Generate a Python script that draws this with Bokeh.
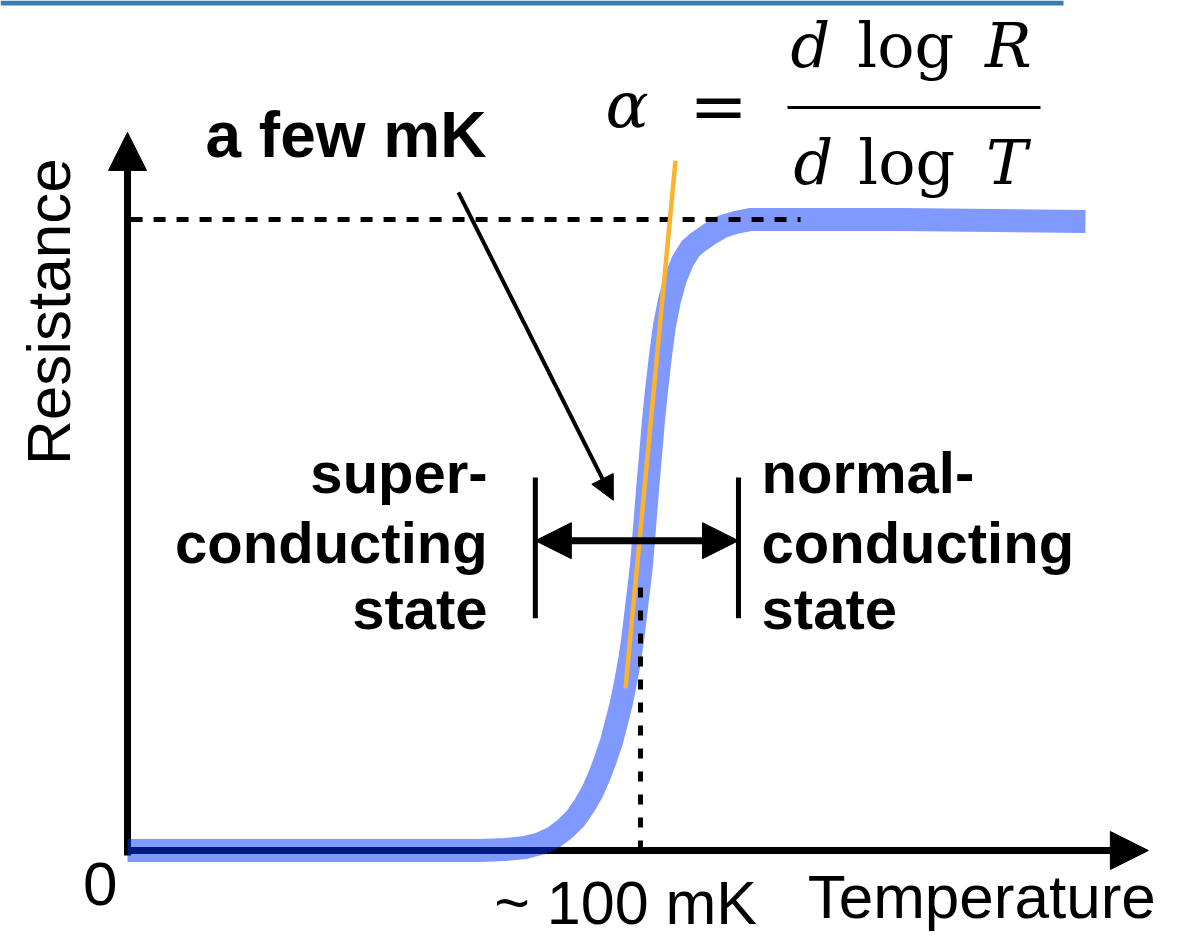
import math

from bokeh.plotting import figure
from bokeh.models import Range1d, Arrow, NormalHead
from bokeh.core.properties import value
from bokeh.embed import file_html
from bokeh.resources import INLINE

# Superconducting transition of a TES: resistance (relative to the
# normal-state value R_n) against temperature in mK.
temperature_mK = [0.0, 68.81, 73.68, 77.58, 80.51, 83.04, 85.38, 87.33, 89.08,
                  90.64, 92.01, 93.18, 94.35, 95.32, 96.30, 97.08, 97.86, 98.44,
                  99.03, 99.61, 100.19, 100.58, 100.97, 101.36, 101.95, 102.53,
                  103.12, 103.90, 104.68, 105.65, 106.82, 108.19, 109.75, 111.11,
                  113.65, 115.98, 118.52, 121.44, 125.34, 150.68, 186.74]
resistance = [0.0, 0.0, 0.0016, 0.0048, 0.0111, 0.0206, 0.0349, 0.0507, 0.0713,
              0.0935, 0.1189, 0.1442, 0.1727, 0.2029, 0.2346, 0.2662, 0.3011,
              0.3328, 0.3724, 0.4120, 0.4517, 0.4913, 0.5309, 0.5705, 0.6260,
              0.6815, 0.7290, 0.7845, 0.8320, 0.8716, 0.9065, 0.9334, 0.9540,
              0.9635, 0.9778, 0.9889, 0.9952, 1.0, 1.0, 1.0, 0.9968]

# tangent of the steep part of the transition (slope alpha)
tangent_T = [97.08, 106.82]
tangent_R = [0.257, 1.093]

T_C = 100.0               # transition temperature, mK
R_N = 1.0                 # normal-state resistance
WIDTH_T = [79.5, 119.1]   # extent of the transition region, mK

state_left = ["super-", "conducting", "state"]
state_right = ["normal-", "conducting", "state"]

# drawing scale: 5.13 px per mK, 631 px per R_n, origin at (127, 850) px
PX_T, PX_R = 5.13, 631.0
T_MIN, T_MAX = -127 / PX_T, (1197 - 127) / PX_T
R_MIN, R_MAX = -(941 - 850) / PX_R, 850 / PX_R

SANS = "Liberation Sans"
SERIF = "DejaVu Serif"


def lift(r, size):
    """Raise a text anchor so the alphabetic baseline lands on r."""
    return r + 0.4 * size / PX_R


p = figure(width=1197, height=941, x_range=Range1d(T_MIN, T_MAX),
           y_range=Range1d(R_MIN, R_MAX), output_backend="svg",
           toolbar_location=None, x_axis_location=None, y_axis_location=None,
           min_border=0, outline_line_color=None, background_fill_color="white",
           border_fill_color="white")
p.grid.visible = False

# slide header strip
p.quad(left=[T_MIN], right=[182.46], bottom=[1.3391], top=[R_MAX],
       fill_color="#3a7cb2", line_color=None)

# axes with arrow heads, drawn underneath the curve
p.add_layout(Arrow(x_start=-0.6, y_start=0.0, x_end=199.0, y_end=0.0,
                   line_width=7, line_color="black", level="underlay",
                   end=NormalHead(size=38, fill_color="black", line_color="black", line_width=1)))
p.add_layout(Arrow(x_start=0.0, y_start=-0.008, x_end=0.0, y_end=1.138,
                   line_width=7, line_color="black", level="underlay",
                   end=NormalHead(size=38, fill_color="black", line_color="black", line_width=1)))

# R(T) curve
p.line(temperature_mK, resistance, line_width=23, line_color="#0034ff",
       line_alpha=0.5, line_join="round", line_cap="butt")

# normal-state level and T_c marker
p.line([0.6, 131.2], [R_N, R_N], line_width=5, line_color="black", line_dash="12 11")
p.line([T_C, T_C], [0.0, 0.431], line_width=5, line_color="black", line_dash="10 13")

# alpha tangent
p.line(tangent_T, tangent_R, line_width=4.5, line_color="#fdb22b")

# transition width markers
p.segment(x0=WIDTH_T, y0=[0.368, 0.368], x1=WIDTH_T, y1=[0.591, 0.591],
          line_width=5, line_color="black")
p.add_layout(Arrow(x_start=WIDTH_T[0], y_start=0.491, x_end=WIDTH_T[1], y_end=0.491,
                   line_width=7, line_color="black",
                   start=NormalHead(size=36, fill_color="black", line_color="black", line_width=1),
                   end=NormalHead(size=36, fill_color="black", line_color="black", line_width=1)))
p.add_layout(Arrow(x_start=64.5, y_start=1.043, x_end=94.7, y_end=0.555,
                   line_width=4, line_color="black",
                   end=NormalHead(size=24, fill_color="black", line_color="black", line_width=1)))

# axis labels
p.text(x=[-5.3], y=[lift(-0.092, 62)], text=["0"], text_font=value(SANS), text_font_size="62px",
       text_align="center", text_baseline="alphabetic", text_color="black")
p.text(x=[97.1], y=[lift(-0.122, 61)], text=["~ 100 mK"], text_font=value(SANS),
       text_font_size="61px", text_align="center", text_baseline="alphabetic", text_color="black")
p.text(x=[132.6], y=[lift(-0.1125, 62)], text=["Temperature"], text_font=value(SANS),
       text_font_size="62px", text_align="left", text_baseline="alphabetic", text_color="black")
p.text(x=[-10.5 - 0.4 * 62 / PX_T], y=[0.854], text=["Resistance"], angle=[math.pi / 2],
       text_font=value(SANS), text_font_size="62px", text_align="center",
       text_baseline="alphabetic", text_color="black")

# annotations
p.text(x=[15.2], y=[lift(1.0927, 64)], text=["a few mK"], text_font=value(SANS),
       text_font_size="64px", text_font_style="bold", text_align="left",
       text_baseline="alphabetic", text_color="black")
line_R = [lift(r, 58) for r in (0.5626, 0.4517, 0.3471)]
p.text(x=[70.2] * 3, y=line_R, text=state_left, text_font=value(SANS), text_font_size="58px",
       text_font_style="bold", text_align="right", text_baseline="alphabetic", text_color="black")
p.text(x=[123.6] * 3, y=line_R, text=state_right, text_font=value(SANS), text_font_size="58px",
       text_font_style="bold", text_align="left", text_baseline="alphabetic", text_color="black")

# alpha = d log R / d log T
p.text(x=[93.2], y=[lift(1.141, 64)], text=["α"], text_font=value(SERIF), text_font_size="64px",
       text_font_style="italic", text_align="left", text_baseline="alphabetic", text_color="black")
p.text(x=[115.2], y=[lift(1.136, 70)], text=["="], text_font=value(SERIF), text_font_size="70px",
       text_align="center", text_baseline="alphabetic", text_color="black")
p.segment(x0=[128.65], y0=[1.1775], x1=[177.97], y1=[1.1775], line_width=3, line_color="black")
for base_R, var, xs in ((1.2361, "R", (133.1, 151.7, 171.7)),
                        (1.0507, "T", (133.7, 151.9, 171.4))):
    y = [lift(base_R, 62)]
    p.text(x=[xs[0]], y=y, text=["d"], text_font=value(SERIF), text_font_size="62px",
           text_font_style="italic", text_align="center", text_baseline="alphabetic",
           text_color="black")
    p.text(x=[xs[1]], y=y, text=["log"], text_font=value(SERIF), text_font_size="62px",
           text_align="center", text_baseline="alphabetic", text_color="black")
    p.text(x=[xs[2]], y=y, text=[var], text_font=value(SERIF), text_font_size="62px",
           text_font_style="italic", text_align="center", text_baseline="alphabetic",
           text_color="black")

open("out.html", "w").write(file_html(p, INLINE))
